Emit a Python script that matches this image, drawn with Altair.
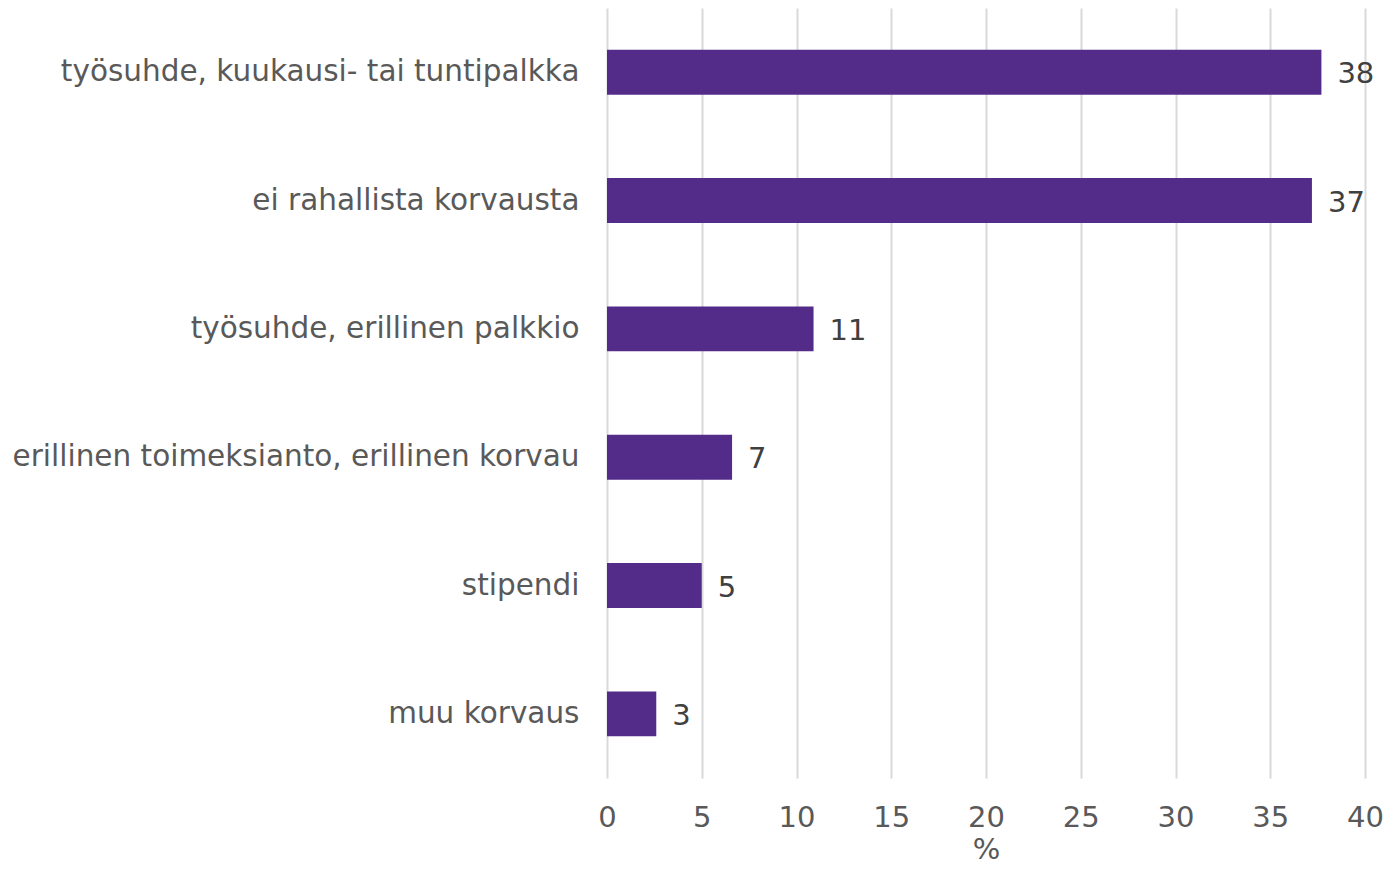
import altair as alt
import pandas as pd

categories = [
    "työsuhde, kuukausi- tai tuntipalkka",
    "ei rahallista korvausta",
    "työsuhde, erillinen palkkio",
    "erillinen toimeksianto, erillinen korvau",
    "stipendi",
    "muu korvaus",
]
values = [37.7, 37.2, 10.9, 6.6, 5.0, 2.6]
labels = ["38", "37", "11", "7", "5", "3"]

df = pd.DataFrame({"cat": categories, "val": values, "lab": labels})

FONT = "DejaVu Sans"
FS = 29

y_enc = alt.Y(
    "cat:N",
    sort=categories,
    title=None,
    scale=alt.Scale(paddingInner=0.65, paddingOuter=0.325),
    axis=alt.Axis(
        ticks=False, domain=False, grid=False, labelPadding=28,
        labelColor="#595959", labelFontSize=29.5, labelFont=FONT, labelLimit=1000,
    ),
)

x_enc = alt.X(
    "val:Q",
    title="%",
    scale=alt.Scale(domain=[0, 40], nice=False),
    axis=alt.Axis(
        values=[0, 5, 10, 15, 20, 25, 30, 35, 40],
        ticks=False, domain=False, grid=True, gridColor="#d9d9d9", gridWidth=2,
        labelFlush=False, labelBound=False, labelOverlap=False,
        labelPadding=25, labelColor="#595959", labelFontSize=FS, labelFont=FONT,
        titleColor="#595959", titleFontSize=FS, titleFont=FONT, titleFontWeight="normal",
        titlePadding=3,
    ),
)

bars = alt.Chart(df).mark_bar(color="#532C8A").encode(x=x_enc, y=y_enc)

text = alt.Chart(df).mark_text(
    align="left", baseline="middle", dx=16, dy=2, fontSize=FS, font=FONT, color="#404040"
).encode(x="val:Q", y=alt.Y("cat:N", sort=categories), text="lab:N")

chart = (bars + text).properties(
    width=758, height=770,
    background="white",
    autosize=alt.AutoSizeParams(type="none"),
    padding={"left": 599, "top": 0, "right": 19, "bottom": 90},
).configure_view(stroke=None)

chart.save("out.html", embed_options={"renderer": "svg", "actions": False})
